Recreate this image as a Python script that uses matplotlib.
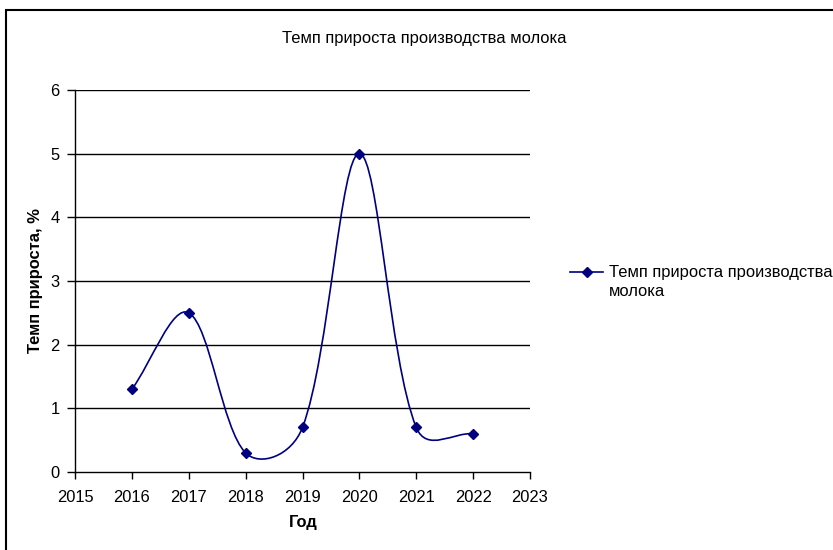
import matplotlib

matplotlib.use("Agg")
import matplotlib.pyplot as plt
import numpy as np
from matplotlib.lines import Line2D
from matplotlib.patches import PathPatch, Rectangle
from matplotlib.path import Path

plt.rcParams["font.family"] = ["Liberation Sans", "DejaVu Sans"]

years = [2016, 2017, 2018, 2019, 2020, 2021, 2022]
growth = [1.3, 2.5, 0.3, 0.7, 5.0, 0.7, 0.6]
series_name = "Темп прироста производства молока"
title = "Темп прироста производства молока"
x_label = "Год"
y_label = "Темп прироста, %"
x_ticks = list(range(2015, 2024))
y_ticks = list(range(0, 7))

NAVY = "#000080"
FS = 11.9


def smooth_path(ax, xs, ys, tension=1 / 3, alpha=0.6):
    # bezier through every point; tangent handles weighted by on-screen
    # segment lengths so short segments next to long ones don't overshoot
    pts = ax.transData.transform(np.column_stack([xs, ys]))
    n = len(pts)
    verts = [pts[0]]
    for i in range(n - 1):
        p0 = pts[max(i - 1, 0)]
        p1 = pts[i]
        p2 = pts[i + 1]
        p3 = pts[min(i + 2, n - 1)]
        w01 = np.hypot(*(p1 - p0)) ** alpha
        w12 = np.hypot(*(p2 - p1)) ** alpha
        w23 = np.hypot(*(p3 - p2)) ** alpha
        c1 = p1 + tension * (p2 - p0) * w12 / (w01 + w12)
        c2 = p2 - tension * (p3 - p1) * w12 / (w12 + w23)
        verts += [c1, c2, p2]
    verts = ax.transData.inverted().transform(np.array(verts))
    codes = [Path.MOVETO] + [Path.CURVE4] * (len(verts) - 1)
    return Path(verts, codes)


fig = plt.figure(figsize=(8.33, 5.5), dpi=100)
ax = fig.add_axes([75 / 833, 1 - 472 / 550, 455 / 833, 382 / 550])

# outer chart frame
fig.add_artist(Rectangle((6 / 833, -0.05), 1.2, 1 - 10 / 550 + 0.05,
                         transform=fig.transFigure, fill=False,
                         edgecolor="black", linewidth=1.5))

ax.set_xlim(2015, 2023)
ax.set_ylim(0, 6)
ax.set_xticks(x_ticks)
ax.set_yticks(y_ticks)
for y in y_ticks[1:]:
    ax.axhline(y, color="black", linewidth=1.0, zorder=1)

ax.add_patch(PathPatch(smooth_path(ax, years, growth), fill=False,
                       edgecolor=NAVY, linewidth=1.2, zorder=3))
ax.plot(years, growth, linestyle="none", marker="D", markersize=5.5,
        color=NAVY, zorder=4)

for side in ("top", "right"):
    ax.spines[side].set_visible(False)
for side in ("left", "bottom"):
    ax.spines[side].set_color("black")
    ax.spines[side].set_linewidth(1.0)

ax.tick_params(axis="x", direction="out", length=5, width=1, pad=8, labelsize=FS)
ax.tick_params(axis="y", direction="out", length=6, width=1, pad=5, labelsize=FS)

fig.text(424 / 833, 1 - 38 / 550, title, ha="center", va="center", fontsize=FS)
fig.text(303 / 833, 1 - 523 / 550, x_label, ha="center", va="center",
         fontsize=FS, fontweight="bold")
fig.text(36 / 833, 1 - 281 / 550, y_label, ha="center", va="center",
         rotation=90, fontsize=FS, fontweight="bold")

# legend key, label wrapped onto two lines
key_y = 1 - 272 / 550
fig.add_artist(Line2D([570 / 833, 603 / 833], [key_y, key_y],
                      transform=fig.transFigure, color=NAVY, linewidth=1.2))
fig.add_artist(Line2D([586.5 / 833], [key_y], transform=fig.transFigure,
                      linestyle="none", marker="D", markersize=5.5, color=NAVY))
fig.text(609 / 833, 1 - 265 / 550, "Темп прироста производства\nмолока",
         ha="left", va="top", fontsize=FS, linespacing=1.32)

fig.savefig("out.png", dpi=100)
